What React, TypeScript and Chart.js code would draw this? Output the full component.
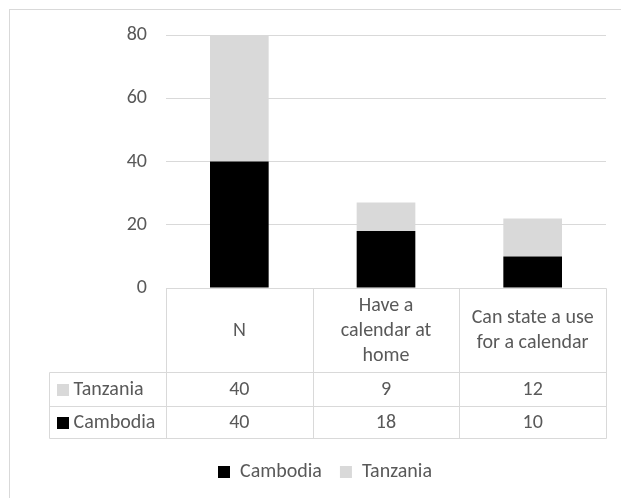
import React, { useEffect, useRef } from "react";
import { Chart, registerables } from "chart.js";

Chart.register(...registerables);

// ---- data ----
const categories: string[][] = [["N"], ["Have a", "calendar at", "home"], ["Can state a use", "for a calendar"]];
const seriesNames = ["Cambodia", "Tanzania"];
const cambodia = [40, 18, 10];
const tanzania = [40, 9, 12];
const yMin = 0;
const yMax = 80;
const yStep = 20;

// ---- styles ----
const FONT = "Carlito, Calibri, Lato, sans-serif";
const FS = 20;
const TEXT = "#595959";
const GRID = "#d9d9d9";
const COLORS = ["#000000", "#d9d9d9"];

const TABLE_LEFT = 39;
const HEADER_H = 84;
const ROW1_H = 34;
const ROW2_H = 32;
const HEADER_LINE = 25;
const PAD_LEFT = 34;
const PLOT_LEFT = 156;

const tablePlugin = {
  id: "dataTable",
  afterDraw(chart: any) {
    const { ctx, chartArea, scales } = chart;
    const x = scales.x;
    const n = categories.length;
    const edges: number[] = [chartArea.left];
    for (let i = 0; i < n - 1; i++) {
      edges.push((x.getPixelForValue(i) + x.getPixelForValue(i + 1)) / 2);
    }
    edges.push(chartArea.right);
    const px = (v: number) => Math.round(v) + 0.5;
    const top = px(chartArea.bottom);
    const hb = top + HEADER_H;
    const r1 = hb + ROW1_H;
    const r2 = r1 + ROW2_H;
    const L = px(TABLE_LEFT);
    const R = px(chartArea.right);

    ctx.save();
    ctx.strokeStyle = GRID;
    ctx.lineWidth = 1;
    ctx.beginPath();
    ctx.moveTo(px(chartArea.left), top);
    ctx.lineTo(R, top);
    [hb, r1, r2].forEach((y) => {
      ctx.moveTo(L, y);
      ctx.lineTo(R, y);
    });
    edges.forEach((e) => {
      ctx.moveTo(px(e), top);
      ctx.lineTo(px(e), r2);
    });
    ctx.moveTo(L, hb);
    ctx.lineTo(L, r2);
    ctx.stroke();

    ctx.fillStyle = TEXT;
    ctx.font = `${FS}px ${FONT}`;
    ctx.textAlign = "center";
    ctx.textBaseline = "middle";
    const hMid = top + HEADER_H / 2;
    categories.forEach((lines, i) => {
      const cx = (edges[i] + edges[i + 1]) / 2;
      const start = hMid - ((lines.length - 1) * HEADER_LINE) / 2;
      lines.forEach((ln, k) => ctx.fillText(ln, cx, start + k * HEADER_LINE));
    });

    const rows = [
      { name: seriesNames[1], color: COLORS[1], vals: tanzania, y: (hb + r1) / 2 },
      { name: seriesNames[0], color: COLORS[0], vals: cambodia, y: (r1 + r2) / 2 },
    ];
    rows.forEach((row) => {
      ctx.fillStyle = row.color;
      ctx.fillRect(L + 7.5, Math.round(row.y - 6), 12, 12);
      ctx.fillStyle = TEXT;
      ctx.textAlign = "left";
      ctx.fillText(row.name, L + 24, row.y);
      ctx.textAlign = "center";
      row.vals.forEach((v, i) => {
        ctx.fillText(String(v), (edges[i] + edges[i + 1]) / 2, row.y);
      });
    });
    ctx.restore();
  },
};

export default function App() {
  const ref = useRef<HTMLCanvasElement>(null);
  useEffect(() => {
    if (!ref.current) return;
    const chart = new Chart(ref.current, {
      type: "bar",
      data: {
        labels: categories.map((c) => c.join(" ")),
        datasets: [
          { label: seriesNames[0], data: cambodia, backgroundColor: COLORS[0], borderWidth: 0 },
          { label: seriesNames[1], data: tanzania, backgroundColor: COLORS[1], borderWidth: 0 },
        ],
      },
      options: {
        responsive: false,
        animation: false,
        events: [],
        layout: { padding: { top: 25, right: 32, bottom: 6, left: PAD_LEFT } },
        datasets: { bar: { barPercentage: 0.8, categoryPercentage: 0.5 } },
        scales: {
          x: {
            stacked: true,
            ticks: { display: false },
            grid: { display: false, drawTicks: false },
            border: { display: false },
            afterFit: (s: any) => {
              s.height = 156;
            },
          },
          y: {
            stacked: true,
            min: yMin,
            max: yMax,
            ticks: { stepSize: yStep, color: TEXT, font: { family: FONT, size: FS }, padding: 19 },
            grid: { color: GRID, drawTicks: false },
            border: { display: false },
            afterFit: (s: any) => {
              s.width = PLOT_LEFT - PAD_LEFT;
              s.paddingTop = 0;
              s.paddingBottom = 0;
            },
          },
        },
        plugins: {
          legend: {
            position: "bottom",
            labels: {
              color: TEXT,
              font: { family: FONT, size: FS },
              boxWidth: 12,
              boxHeight: 12,
              padding: 18,
            },
          },
          tooltip: { enabled: false },
        },
      },
      plugins: [tablePlugin],
    });
    return () => chart.destroy();
  }, []);
  return (
    <div
      style={{
        position: "fixed",
        left: 9,
        top: 9,
        width: 612,
        height: 489,
        overflow: "hidden",
        borderTop: `1px solid ${GRID}`,
        borderLeft: `1px solid ${GRID}`,
        background: "#fff",
      }}
    >
      <canvas ref={ref} width={628} height={488} style={{ display: "block" }} />
    </div>
  );
}
